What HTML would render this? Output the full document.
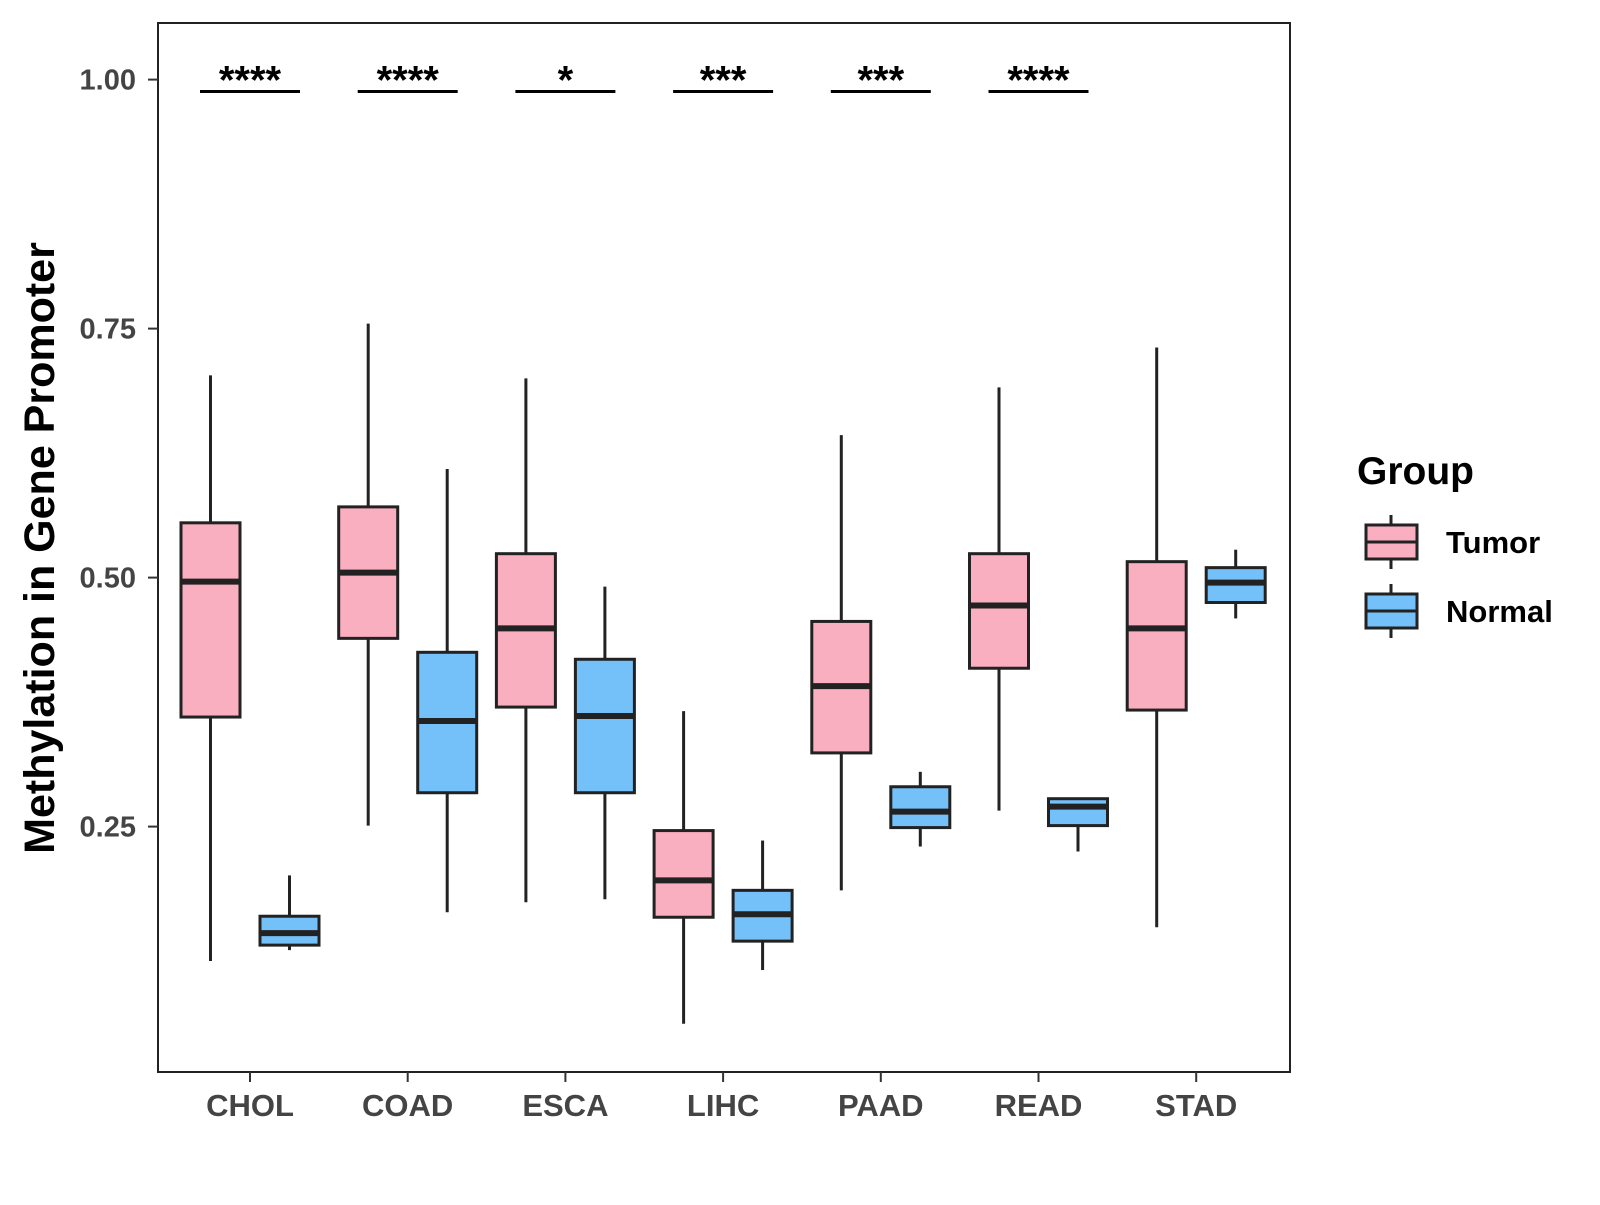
<!DOCTYPE html>
<html><head><meta charset="utf-8"><style>
body{margin:0;background:#fff}
svg text{font-family:"Liberation Sans",Arial,sans-serif;font-weight:bold}
</style></head><body>
<svg id="chart" width="1600" height="1200" xmlns="http://www.w3.org/2000/svg">
<rect x="158" y="23" width="1132" height="1049" fill="#fff" stroke="#222" stroke-width="2"/>
<g id="axes"></g><g id="boxes"></g><g id="sig"></g>
<text transform="translate(54,548) rotate(-90)" text-anchor="middle" font-size="43" fill="#000">Methylation in Gene Promoter</text>
<text x="1357" y="484" font-size="39" fill="#000">Group</text>
<g id="legend"></g>
</svg>
<script>
const categories=["CHOL","COAD","ESCA","LIHC","PAAD","READ","STAD"];
// [low, q1, median, q3, high]
const tumor=[[0.115,0.360,0.496,0.555,0.703],[0.251,0.439,0.505,0.571,0.755],[0.174,0.370,0.449,0.524,0.700],[0.052,0.159,0.196,0.246,0.366],[0.186,0.324,0.391,0.456,0.643],[0.266,0.409,0.472,0.524,0.691],[0.149,0.367,0.449,0.516,0.731]];
const normal=[[0.126,0.131,0.143,0.160,0.201],[0.164,0.284,0.356,0.425,0.609],[0.177,0.284,0.361,0.418,0.491],[0.106,0.135,0.162,0.186,0.236],[0.230,0.249,0.265,0.290,0.305],[0.225,0.251,0.270,0.278,0.278],[0.459,0.475,0.495,0.510,0.528]];
const signif=["****","****","*","***","***","****",""];
const yTicks=[0.25,0.50,0.75,1.00];
const yTickLabels=["0.25","0.50","0.75","1.00"];
const sigLevel=0.988;
const NS="http://www.w3.org/2000/svg";
function y(v){return 79.6+(1-v)*996;}
function x(i){return 250+i*157.7;}
function mk(tag,attrs,parent){const e=document.createElementNS(NS,tag);for(const k in attrs)e.setAttribute(k,attrs[k]);parent.appendChild(e);return e;}
const axes=document.getElementById('axes'),boxes=document.getElementById('boxes'),sig=document.getElementById('sig'),leg=document.getElementById('legend');
yTicks.forEach((t,i)=>{
 const l=mk('line',{x1:148,x2:158,y1:y(t),y2:y(t),stroke:'#333','stroke-width':2},axes);
 
 
 const tx=mk('text',{x:136,y:y(t)+10,'text-anchor':'end','font-size':29,fill:'#444'},axes);
 tx.textContent=yTickLabels[i];
 
 
});
categories.forEach((c,i)=>{
 const l=mk('line',{x1:x(i),x2:x(i),y1:1072,y2:1082,stroke:'#333','stroke-width':2},axes);
 
 
 const tx=mk('text',{x:x(i),y:1116,'text-anchor':'middle','font-size':31,fill:'#444'},axes);
 tx.textContent=c;
 
 
});
function box(cx,d,fill,name){
 const g=mk('g',{},boxes);
 
 
 const w=59;
 mk('line',{x1:cx,x2:cx,y1:y(d[4]),y2:y(d[3]),stroke:'#222','stroke-width':3},g);
 mk('line',{x1:cx,x2:cx,y1:y(d[1]),y2:y(d[0]),stroke:'#222','stroke-width':3},g);
 mk('rect',{x:cx-w/2,y:y(d[3]),width:w,height:Math.max(0,y(d[1])-y(d[3])),fill:fill,stroke:'#222','stroke-width':3},g);
 mk('line',{x1:cx-w/2,x2:cx+w/2,y1:y(d[2]),y2:y(d[2]),stroke:'#222','stroke-width':6},g);
}
categories.forEach((c,i)=>{
 box(x(i)-39.5,tumor[i],'#FAAFC0','box-tumor-'+c.toLowerCase());
 box(x(i)+39.5,normal[i],'#74C0F8','box-normal-'+c.toLowerCase());
 if(signif[i]){
  const l=mk('line',{x1:x(i)-50,x2:x(i)+50,y1:y(sigLevel),y2:y(sigLevel),stroke:'#000','stroke-width':3},sig);
  
  
  const t=mk('text',{x:x(i),y:y(sigLevel)+2,'text-anchor':'middle','font-size':40,fill:'#000'},sig);
  t.textContent=signif[i];
  
  
 }
});
[["Tumor","#FAAFC0",542],["Normal","#74C0F8",611]].forEach(([n,f,cy])=>{
 const g=mk('g',{},leg);
 
 
 mk('line',{x1:1391,x2:1391,y1:cy-27,y2:cy+27,stroke:'#222','stroke-width':3},g);
 mk('rect',{x:1366,y:cy-17,width:51,height:34,fill:f,stroke:'#222','stroke-width':3},g);
 mk('line',{x1:1366,x2:1417,y1:cy,y2:cy,stroke:'#222','stroke-width':3},g);
 const t=mk('text',{x:1446,y:cy+11,'font-size':31,fill:'#000'},g);
 t.textContent=n;
});
</script>
</body></html>
